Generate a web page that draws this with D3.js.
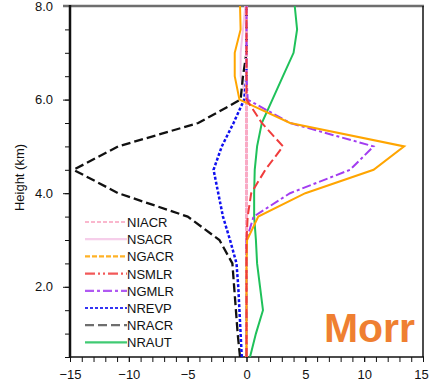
<!DOCTYPE html>
<html>
<head>
<meta charset="utf-8">
<script src="https://cdn.jsdelivr.net/npm/d3@7"></script>
<style>
    body { margin: 0; background: #fff; }
    svg { display: block; font-family: "Liberation Sans", Arial, sans-serif; }
</style>
</head>
<body>
<div id="chart"></div>
<script>
// model levels (km)
const heights = [0.5, 1.0, 1.5, 2.0, 2.5, 3.0, 3.5, 4.0, 4.5, 5.0, 5.5, 6.0, 6.5, 7.0, 7.5, 8.0];

// process rates, one value per level
const NIACR = [0, 0, 0, 0, 0, 0, 0, 0, 0, 0, 0, 0, 0, 0, 0, 0];
const NSACR = [0, 0, 0, 0, 0, 0, 0, 0, 0, 0, 0, 0, -0.5, -0.5, -0.3, -0.1];
const NGACR = [0, 0, 0, 0, 0, 0.05, 1.0, 5.0, 10.8, 13.4, 3.7, -0.6, -1.0, -1.0, -0.5, -0.55];
const NSMLR = [0, 0, 0, 0, 0, 0, 0.1, 0.4, 1.6, 3.1, 1.3, 0, 0, 0, 0, 0];
const NGMLR = [0, 0, 0, 0, 0, 0, 0.6, 3.7, 8.8, 10.8, 3.7, 0.1, 0, 0, 0, 0];
const NREVP = [-0.4, -0.5, -0.6, -0.7, -0.85, -1.4, -2.0, -2.4, -2.8, -2.1, -1.1, -0.2, 0, 0, 0, 0];
const NRACR = [-0.55, -0.75, -0.9, -1.05, -1.2, -2.3, -5.0, -10.9, -14.7, -10.9, -4.1, -0.5, -0.3, 0, 0, 0];
const NRAUT = [0.3, 0.8, 1.4, 1.15, 0.9, 0.8, 0.65, 0.65, 0.7, 0.9, 1.3, 2.2, 3.1, 4.0, 4.3, 4.1];

const xTicks = [-15, -10, -5, 0, 5, 10, 15];
const yTicks = [2.0, 4.0, 6.0, 8.0];

const series = [
    {name: 'NIACR', values: NIACR, color: '#f9aac4', dash: '5,1', key: '4,2', w: 3},
    {name: 'NSACR', values: NSACR, color: '#f4c6e6', dash: null, key: null, w: 2},
    {name: 'NGACR', values: NGACR, color: '#ffa500', dash: null, key: '5,2', w: 2},
    {name: 'NSMLR', values: NSMLR, color: '#f03c3c', dash: '9,4', key: '10,3,2,3,2,3', w: 2},
    {name: 'NGMLR', values: NGMLR, color: '#a23cf0', dash: '9,3,3,3', key: '9,3,3,3', w: 2},
    {name: 'NREVP', values: NREVP, color: '#1010f0', dash: '3,2', key: '3,2', w: 2.5},
    {name: 'NRACR', values: NRACR, color: '#111', dash: '9,4', key: '9,4', w: 2.3},
    {name: 'NRAUT', values: NRAUT, color: '#1fc15a', dash: null, key: null, w: 2}
];

const width = 429, height = 391;
const margin = {top: 6, right: 6, bottom: 33, left: 70};
const innerW = 423 - margin.left;
const innerH = 357 - margin.top;

const svg = d3.select('#chart')
    .append('svg')
    .attr('width', width)
    .attr('height', height);

const x = d3.scaleLinear().domain([-15, 15]).range([margin.left, margin.left + innerW]);
const y = d3.scaleLinear().domain([0.5, 8]).range([margin.top + innerH, margin.top]);

/* minor ticks first, then major axes */
const xAxis = d3.axisBottom(x).tickValues(xTicks).tickSize(5).tickPadding(8).tickFormat(d3.format('d'));
const xMinor = d3.axisBottom(x).tickValues(d3.range(-15, 16, 1)).tickSize(5).tickFormat('');
const yAxis = d3.axisLeft(y).tickValues(yTicks).tickSize(7).tickPadding(10).tickFormat(d3.format('.1f'));
const yMinor = d3.axisLeft(y).tickValues(d3.range(0.5, 8.01, 0.5)).tickSize(5).tickFormat('');

const gx = margin.top + innerH;
svg.append('g').attr('transform', `translate(0,${gx})`).call(xMinor);
svg.append('g').attr('class', 'xaxis').attr('transform', `translate(0,${gx})`).call(xAxis);
svg.append('g').attr('transform', `translate(${margin.left},0)`).call(yMinor);
svg.append('g').attr('class', 'yaxis').attr('transform', `translate(${margin.left},0)`).call(yAxis);

svg.selectAll('.domain').remove();
svg.selectAll('.tick line').attr('stroke', '#111').attr('stroke-width', 1);
svg.selectAll('.tick text').attr('font-size', 13).attr('fill', '#111');
// last label sits against the window edge
svg.selectAll('.xaxis .tick text').filter((d) => d === 15).attr('dx', -2);

/* frame */
svg.append('line')
    .attr('x1', x(-15) - 7).attr('x2', x(15) + 1)
    .attr('y1', y(8)).attr('y2', y(8))
    .attr('stroke', '#6e6e6e').attr('stroke-width', 2.5);
svg.append('line')
    .attr('x1', x(15)).attr('x2', x(15))
    .attr('y1', y(8)).attr('y2', y(0.5))
    .attr('stroke', '#111').attr('stroke-width', 1.5);
svg.append('line')
    .attr('x1', x(-15)).attr('x2', x(15) + 1)
    .attr('y1', y(0.5)).attr('y2', y(0.5))
    .attr('stroke', '#111').attr('stroke-width', 1.5);

/* profiles */
const line = d3.line()
    .x((d) => x(d[0]))
    .y((d) => y(d[1]));

const order = ['NSACR', 'NRAUT', 'NRACR', 'NREVP', 'NIACR', 'NGMLR', 'NGACR', 'NSMLR'];
order.forEach((name) => {
    const s = series.find((d) => d.name === name);
    svg.append('path')
        .datum(s.values.map((v, i) => [v, heights[i]]))
        .attr('d', line)
        .attr('fill', 'none')
        .attr('stroke', s.color)
        .attr('stroke-width', s.w)
        .attr('stroke-dasharray', s.dash);
});

svg.append('line')
    .attr('x1', x(-15)).attr('x2', x(-15))
    .attr('y1', y(8) - 1).attr('y2', y(0.5) + 1)
    .attr('stroke', '#111').attr('stroke-width', 2.5);

/* legend */
const legend = svg.append('g').attr('transform', 'translate(85,222)');
series.forEach((s, i) => {
    const row = legend.append('g').attr('transform', `translate(0,${i * 17.2})`);
    row.append('line')
        .attr('x1', 0).attr('x2', 42)
        .attr('stroke', s.name === 'NRACR' ? '#555' : s.color)
        .attr('stroke-opacity', 0.85)
        .attr('stroke-width', 2.2)
        .attr('stroke-dasharray', s.key);
    row.append('text')
        .attr('x', 42)
        .attr('y', 5)
        .attr('font-size', 13)
        .attr('fill', '#111')
        .text(s.name);
});

/* axis title */
svg.append('text')
    .attr('transform', `translate(24,${(y(8) + y(0.5)) / 2 - 4}) rotate(-90)`)
    .attr('text-anchor', 'middle')
    .attr('font-size', 13)
    .attr('fill', '#111')
    .text('Height (km)');

svg.append('text')
    .attr('x', 415)
    .attr('y', 342)
    .attr('text-anchor', 'end')
    .attr('font-size', 41)
    .attr('font-weight', 'bold')
    .attr('fill', '#ef7f31')
    .text('Morr');
</script>
</body>
</html>
